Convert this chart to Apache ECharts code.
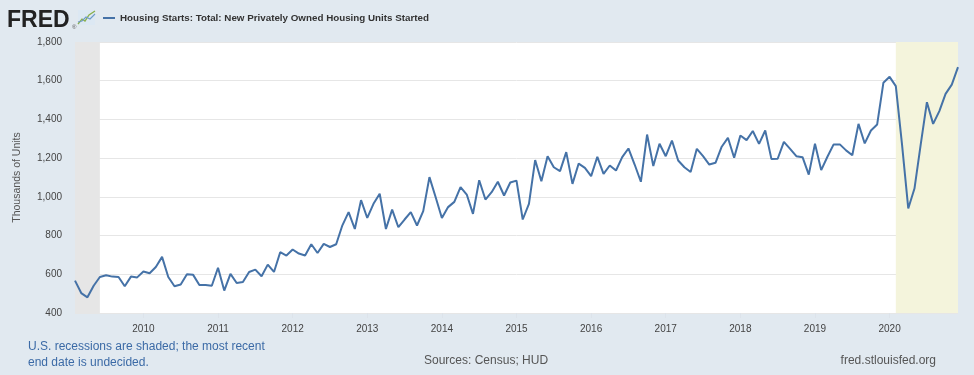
<!DOCTYPE html>
<html>
<head>
<meta charset="utf-8">
<script src="https://cdn.jsdelivr.net/npm/echarts@6/dist/echarts.min.js"></script>
<style>
  html, body { margin: 0; padding: 0; background: #e1e9f0; }
  #chart { width: 974px; height: 375px; }
</style>
</head>
<body>
<div id="chart"></div>
<script>
// Monthly housing starts, thousands of units, SAAR (Feb 2009 - Dec 2020)
const startYear = 2009;
const startMonth = 2;
const starts = [
  567, 503, 481, 541, 586, 595, 588, 586, 538, 588, 584,            // 2009 Feb-Dec
  614, 605, 638, 690, 586, 538, 547, 600, 597, 545, 545, 541,       // 2010
  634, 516, 602, 555, 560, 612, 624, 590, 650, 612, 714, 697,       // 2011
  728, 707, 697, 755, 710, 757, 741, 755, 853, 921, 834, 983,       // 2012
  891, 964, 1016, 834, 934, 843, 883, 921, 852, 926, 1102, 998,     // 2013
  891, 947, 974, 1050, 1012, 912, 1086, 986, 1024, 1078, 1007, 1074, // 2014
  1084, 883, 964, 1190, 1081, 1210, 1153, 1133, 1231, 1067, 1172, 1150, // 2015
  1107, 1207, 1119, 1162, 1136, 1205, 1250, 1167, 1078, 1322, 1159, 1274, // 2016
  1210, 1291, 1188, 1153, 1128, 1248, 1210, 1167, 1176, 1259, 1305, 1202, // 2017
  1317, 1293, 1340, 1274, 1343, 1195, 1197, 1284, 1248, 1210, 1205, 1115, // 2018
  1274, 1138, 1207, 1271, 1271, 1240, 1215, 1377, 1276, 1343, 1374, 1589, // 2019
  1620, 1572, 1270, 940, 1043, 1270, 1489, 1377, 1443, 1532, 1580, 1670   // 2020
];
const yTicks = [400, 600, 800, 1000, 1200, 1400, 1600, 1800];
const recessions = [["2009-02", "2009-06"], ["2020-02", "2020-12"]];
const recessionColors = ["#e6e6e6", "#f4f4dc"];

const months = starts.map((_, i) => {
  const m = startMonth - 1 + i;
  const y = startYear + Math.floor(m / 12);
  const mm = String((m % 12) + 1).padStart(2, "0");
  return `${y}-${mm}`;
});

const sans = "'Liberation Sans', Arial, sans-serif";
const isJan = (i) => months[i].endsWith("-01");

const chart = echarts.init(document.getElementById("chart"), null, { renderer: "canvas" });

chart.setOption({
  backgroundColor: "#e1e9f0",
  animation: false,
  grid: { left: 75, right: 16, top: 42, bottom: 62, show: true, backgroundColor: "#ffffff", borderWidth: 0 },
  legend: {
    left: 98, top: 8,
    itemWidth: 12, itemHeight: 2, itemGap: 6,
    icon: "rect",
    textStyle: { fontFamily: sans, fontSize: 9.8, fontWeight: "bold", color: "#333" },
    data: ["Housing Starts: Total: New Privately Owned Housing Units Started"]
  },
  xAxis: {
    type: "category",
    data: months,
    boundaryGap: false,
    axisLine: { show: false },
    axisTick: { show: true, length: 5, interval: (i) => isJan(i), lineStyle: { color: "#dde3ea" } },
    axisLabel: {
      interval: (i) => isJan(i),
      formatter: (v) => v.slice(0, 4),
      fontFamily: sans, fontSize: 10, color: "#444", margin: 11
    },
    splitLine: { show: false }
  },
  yAxis: {
    type: "value",
    min: yTicks[0], max: yTicks[yTicks.length - 1], interval: 200,
    name: "Thousands of Units",
    nameLocation: "middle", nameGap: 52, nameRotate: 90,
    nameTextStyle: { fontFamily: sans, fontSize: 10.5, color: "#555" },
    axisLine: { show: false },
    axisTick: { show: false },
    axisLabel: {
      margin: 13,
      formatter: (v) => v.toLocaleString("en-US"),
      fontFamily: sans, fontSize: 10, color: "#444"
    },
    splitLine: { lineStyle: { color: "#e6e6e6", width: 1 } }
  },
  series: [{
    name: "Housing Starts: Total: New Privately Owned Housing Units Started",
    type: "line",
    data: starts,
    symbol: "none",
    lineStyle: { color: "#4572a7", width: 2 },
    itemStyle: { color: "#4572a7" },
    markArea: {
      silent: true,
      data: recessions.map((r, k) => [
        { xAxis: r[0], itemStyle: { color: recessionColors[k] } },
        { xAxis: r[1] }
      ])
    },
    z: 3
  }],
  graphic: [
    { type: "text", left: 7, top: 9,
      style: { text: "FRED", font: "900 23px " + sans, fill: "#222" } },
    { type: "text", left: 72, top: 24,
      style: { text: "®", font: "6px " + sans, fill: "#555" } },
    { type: "rect", shape: { x: 78, y: 10, width: 17, height: 15 },
      style: { fill: "#dce8f3" } },
    { type: "polyline", shape: { points: [[78, 24], [82, 19], [85, 21], [89, 15], [95, 11]] },
      style: { stroke: "#8ab04a", lineWidth: 1.3, fill: null } },
    { type: "polyline", shape: { points: [[78, 22], [82, 21], [86, 17], [90, 19], [95, 14]] },
      style: { stroke: "#6e9bc8", lineWidth: 1.1, fill: null } },
    { type: "text", left: 28, top: 339,
      style: { text: "U.S. recessions are shaded; the most recent\nend date is undecided.",
        font: "12px " + sans, fill: "#3b6aa6", lineHeight: 16 } },
    { type: "text", left: 424, top: 355,
      style: { text: "Sources: Census; HUD", font: "12px " + sans, fill: "#555" } },
    { type: "text", right: 38, top: 355,
      style: { text: "fred.stlouisfed.org", font: "12px " + sans, fill: "#555" } }
  ]
});
</script>
</body>
</html>
